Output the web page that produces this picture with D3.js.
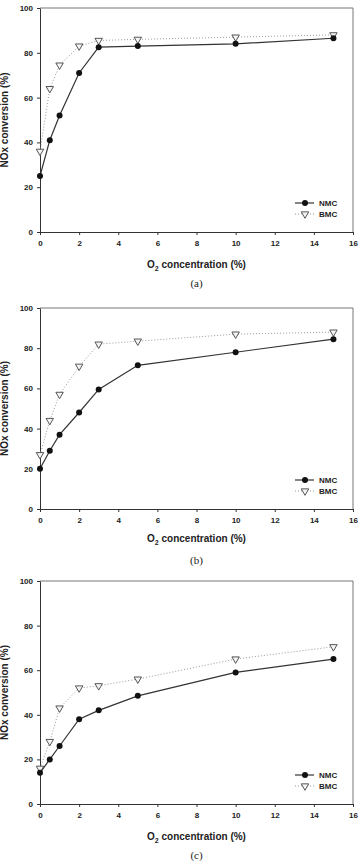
<!DOCTYPE html>
<html>
<head>
  <script src="https://d3js.org/d3.v7.js"></script>
  <style>
    html, body { margin: 0; padding: 0; background: #fff; }
    .tick text { font-family: Arial, "Liberation Sans", sans-serif; font-weight: bold; font-size: 8px; fill: #222; }
    .axisLabel { font-family: Arial, "Liberation Sans", sans-serif; font-weight: bold; font-size: 10px; fill: #222; }
    .panelLabel { font-family: "Times New Roman", "Liberation Serif", serif; font-size: 11px; fill: #222; }
    .legend { font-family: Arial, "Liberation Sans", sans-serif; font-weight: bold; font-size: 8px; fill: #222; }
  </style>
</head>
<body>
<div id="chart"></div>
<script>
const width = 361, height = 868;

// shared x values (O2 concentration, %)
const o2 = [0, 0.5, 1, 2, 3, 5, 10, 15];
const xTicks = [0, 2, 4, 6, 8, 10, 12, 14, 16];
const yTicks = [0, 20, 40, 60, 80, 100];

// panel (a)
const nmcA = [25, 41, 52, 71, 82.5, 83, 84, 86.5];
const bmcA = [36, 64, 74.5, 83, 85.5, 86, 87, 88];
// panel (b)
const nmcB = [20, 29, 37, 48, 59.5, 71.5, 78, 84.5];
const bmcB = [27, 44, 57, 71, 82, 83.5, 87, 88];
// panel (c)
const nmcC = [14, 20, 26, 38, 42, 48.5, 59, 65];
const bmcC = [16, 28, 43, 52, 53, 56, 65, 70.5];

const panels = [
  {nmc: nmcA, bmc: bmcA, label: "(a)", top: 8,   bottom: 232, xlab: 268, plab: 287},
  {nmc: nmcB, bmc: bmcB, label: "(b)", top: 308, bottom: 509, xlab: 542, plab: 564},
  {nmc: nmcC, bmc: bmcC, label: "(c)", top: 581, bottom: 804, xlab: 840, plab: 859}
];

const svg = d3.select("#chart").append("svg")
  .attr("width", width).attr("height", height);

const left = 40, right = 353;

panels.forEach(function(p) {
  const g = svg.append("g");

  const xScale = d3.scaleLinear().domain([0, 16]).range([left, right]);
  const yScale = d3.scaleLinear().domain([0, 100]).range([p.bottom, p.top]);

  // frame (top and right)
  g.append("path")
    .attr("d", `M${left},${p.top}H${right}V${p.bottom}`)
    .attr("fill", "none").attr("stroke", "#777").attr("stroke-width", 1);

  g.append("g")
    .attr("transform", `translate(0,${p.bottom})`)
    .call(d3.axisBottom(xScale).tickValues(xTicks).tickSize(3).tickPadding(5).tickSizeOuter(0))
    .call(a => a.select(".domain").attr("stroke", "#333"))
    .call(a => a.selectAll("line").attr("stroke", "#333"));

  g.append("g")
    .attr("transform", `translate(${left},0)`)
    .call(d3.axisLeft(yScale).tickValues(yTicks).tickSize(3).tickPadding(4).tickSizeOuter(0))
    .call(a => a.select(".domain").attr("stroke", "#333"))
    .call(a => a.selectAll("line").attr("stroke", "#333"));

  const line = d3.line()
    .x((d, i) => xScale(o2[i]))
    .y(d => yScale(d));

  // BMC dotted line
  g.append("path").datum(p.bmc)
    .attr("d", line)
    .attr("fill", "none").attr("stroke", "#999").attr("stroke-width", 1)
    .attr("stroke-dasharray", "1,2");

  // NMC solid line
  g.append("path").datum(p.nmc)
    .attr("d", line)
    .attr("fill", "none").attr("stroke", "#333").attr("stroke-width", 1.2);

  const tri = d3.symbol().type(d3.symbolTriangle).size(24);
  g.selectAll(".bmc").data(p.bmc).enter().append("path")
    .attr("class", "bmc")
    .attr("d", tri)
    .attr("transform", (d, i) => `translate(${xScale(o2[i])},${yScale(d)}) rotate(180)`)
    .attr("fill", "#f4f4f4").attr("stroke", "#444").attr("stroke-width", 0.9);

  g.selectAll(".nmc").data(p.nmc).enter().append("circle")
    .attr("class", "nmc")
    .attr("cx", (d, i) => xScale(o2[i]))
    .attr("cy", d => yScale(d))
    .attr("r", 3)
    .attr("fill", "#111");

  // legend
  const ly = p.bottom - 29;
  g.append("line").attr("x1", 295).attr("x2", 314).attr("y1", ly).attr("y2", ly)
    .attr("stroke", "#333").attr("stroke-width", 1.2);
  g.append("circle").attr("cx", 305).attr("cy", ly).attr("r", 3).attr("fill", "#111");
  g.append("text").attr("class", "legend").attr("x", 319).attr("y", ly + 3).text("NMC");

  g.append("line").attr("x1", 295).attr("x2", 314).attr("y1", ly + 11).attr("y2", ly + 11)
    .attr("stroke", "#999").attr("stroke-dasharray", "1,2");
  g.append("path").attr("d", tri)
    .attr("transform", `translate(305,${ly + 11}) rotate(180)`)
    .attr("fill", "#f4f4f4").attr("stroke", "#444").attr("stroke-width", 0.9);
  g.append("text").attr("class", "legend").attr("x", 319).attr("y", ly + 14).text("BMC");

  // axis labels
  const xl = g.append("text").attr("class", "axisLabel")
    .attr("x", (left + right) / 2).attr("y", p.xlab).attr("text-anchor", "middle");
  xl.append("tspan").text("O");
  xl.append("tspan").attr("font-size", "7px").attr("dy", 3).text("2");
  xl.append("tspan").attr("dy", -3).text(" concentration (%)");

  g.append("text").attr("class", "axisLabel")
    .attr("transform", `translate(8,${(p.top + p.bottom) / 2}) rotate(-90)`)
    .attr("text-anchor", "middle")
    .text("NOx conversion (%)");

  g.append("text").attr("class", "panelLabel")
    .attr("x", (left + right) / 2).attr("y", p.plab).attr("text-anchor", "middle")
    .text(p.label);
});
</script>
</body>
</html>
